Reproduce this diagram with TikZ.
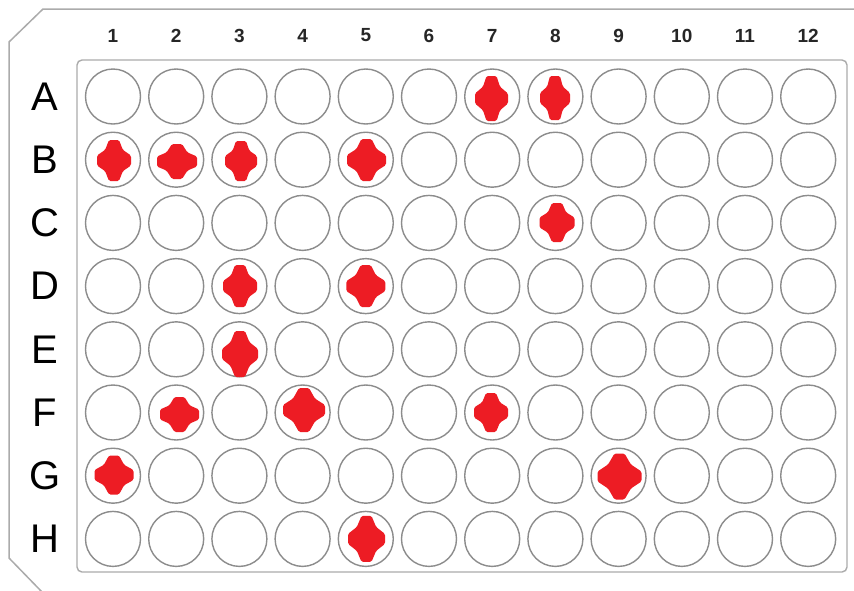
\documentclass[tikz,border=0pt]{standalone}
\usepackage{fontspec}
\setmainfont{Liberation Sans}
\usepackage{xcolor}
\usetikzlibrary{calc}

\definecolor{wellgray}{HTML}{8C8C8C}
\definecolor{rimgray}{HTML}{ABABAB}
\definecolor{hitred}{HTML}{ED1C24}

% four-lobed red mark: centre, half width, half height
\newcommand{\hitmark}[3]{%
  \begin{scope}[shift={#1}]
    \pgfmathsetmacro\cx{0.52*#2}\pgfmathsetmacro\cy{0.52*#3}
    \fill[hitred, rounded corners=1.5pt] (-5,-#3) -- (5,-#3) -- (\cx,-\cy) -- (#2,-5)
      -- (#2,5) -- (\cx,\cy) -- (5,#3) -- (-5,#3) -- (-\cx,\cy) -- (-#2,5)
      -- (-#2,-5) -- (-\cx,-\cy) -- cycle;
  \end{scope}}

\begin{document}
\begin{tikzpicture}[x=1pt, y=-1pt,
  well/.style={draw=wellgray, line width=1.4pt, circle, minimum size=55pt, inner sep=0pt},
  colnum/.style={font=\fontsize{19}{19}\selectfont\bfseries, text=black!85},
  rowlet/.style={font=\fontsize{40}{40}\selectfont, text=black}]
\useasboundingbox (0,0) rectangle (854,590);
\fill[white] (0,0) rectangle (854,590);
% plate outline and well area
\draw[rimgray, line width=1.5pt] (42,592) -- (9,558) -- (9,42) -- (43,9) -- (856,9);
\draw[rimgray, line width=1.4pt, rounded corners=5pt] (77,60) rectangle (847,572);
% wells
\foreach \r [count=\i from 0] in {A,B,C,D,E,F,G,H}
  \foreach \c in {1,...,12}
    \node[well] (\r\c) at ({113+63.2*(\c-1)},{96.5+63.2*\i}) {};
% labels
\foreach \c in {1,...,12}
  \node[colnum] (n\c) at ({113+63.2*(\c-1)},35.5) {\c};
\foreach \r in {A,B,C,D,E,F,G,H}
  \node[rowlet] (l\r) at (\r1 -| 45,0) {\r};
% positive wells
\foreach \w/\dx/\dy/\hw/\hh in {A7/-0.7/2/16.5/22.5, A8/-0.4/1.5/15/22, B1/1/0.8/17/20.5,
    B2/0.8/1.8/20/17.5, B3/1.6/1.3/16/20, B5/0.7/0.3/19.5/21, C8/1.6/-0.4/17.5/19.5,
    D3/0.6/0/17/21, D5/0/0/19.5/21, E3/0.6/4.7/18/23, F2/3.3/2/19.5/17.5,
    F4/1.4/-2.5/21/22, F7/-1.2/0/17/19.5, G1/1/-0.7/19.5/19.5, G9/0.9/0.8/22/23,
    H5/0.7/0/18.5/23}
  \hitmark{($(\w)+(\dx,\dy)$)}{\hw}{\hh};
\end{tikzpicture}
\end{document}
